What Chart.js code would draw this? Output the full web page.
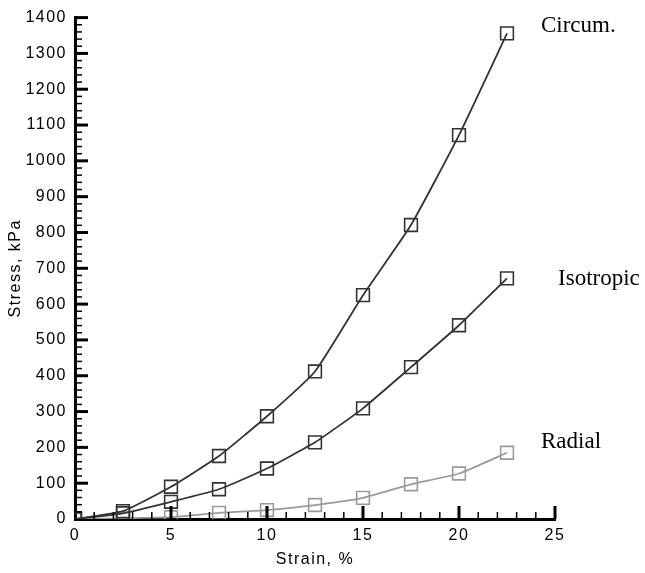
<!DOCTYPE html>
<html>
<head>
<meta charset="utf-8">
<script src="https://cdn.jsdelivr.net/npm/chart.js@4.4.0/dist/chart.umd.min.js"></script>
<style>
  html, body { margin: 0; padding: 0; background: #fff; }
  #wrap { width: 645px; height: 573px; }
</style>
</head>
<body>
<div id="wrap"><canvas id="myChart" width="645" height="573"></canvas></div>
<script>
// strain (%) at each measurement
const strain = [0, 2.5, 5, 7.5, 10, 12.5, 15, 17.5, 20, 22.5];
// stress (kPa) per loading direction
const circum = [0, 22, 90, 176, 287, 412, 625, 821, 1072, 1356];
const isotropic = [0, 16, 48, 83, 141, 214, 309, 424, 541, 672];
const radial = [0, 2, 5, 17, 25, 39, 59, 97, 127, 185];
const seriesNames = ['Circum.', 'Isotropic', 'Radial'];

const toPoints = vals => strain.map((s, i) => ({ x: s, y: vals[i] }));

const dark = '#333333';
const light = '#9a9a9a';

function makeSet(label, vals, color) {
    return {
        label: label,
        data: toPoints(vals),
        borderColor: color,
        borderWidth: 1.8,
        pointStyle: 'rect',
        pointRadius: 9,
        pointBorderWidth: 1.6,
        pointBorderColor: color,
        pointBackgroundColor: 'rgba(0,0,0,0)',
        tension: 0.15,
        fill: false
    };
}

// text labels next to each curve, given in data units
const curveLabels = [
    { text: seriesNames[0], x: 24.27, y: 1359 },
    { text: seriesNames[1], x: 25.16, y: 654 },
    { text: seriesNames[2], x: 24.27, y: 198 }
];

const insideTicks = {
    id: 'insideTicks',
    beforeDraw(chart) {
        chart.ctx.letterSpacing = '1.5px';
    },
    afterDraw(chart) {
        const ctx = chart.ctx;
        const xs = chart.scales.x;
        const ys = chart.scales.y;
        const left = chart.chartArea.left;
        const bottom = chart.chartArea.bottom;
        ctx.save();
        ctx.strokeStyle = '#000';
        for (let v = 20; v <= 1400; v += 20) {
            const major = v % 100 === 0;
            const py = ys.getPixelForValue(v);
            ctx.lineWidth = major ? 3 : 1.5;
            ctx.beginPath();
            ctx.moveTo(left, py);
            ctx.lineTo(left + (major ? 13 : 7), py);
            ctx.stroke();
        }
        for (let v = 1; v <= 25; v += 1) {
            const major = v % 5 === 0;
            const px = xs.getPixelForValue(v);
            ctx.lineWidth = major ? 3 : 1.5;
            ctx.beginPath();
            ctx.moveTo(px, bottom);
            ctx.lineTo(px, bottom - (major ? 13 : 7));
            ctx.stroke();
        }
        ctx.letterSpacing = '0px';
        ctx.fillStyle = '#000';
        ctx.font = '23px "Liberation Serif"';
        ctx.textAlign = 'left';
        ctx.textBaseline = 'alphabetic';
        curveLabels.forEach(l => {
            ctx.fillText(l.text, xs.getPixelForValue(l.x), ys.getPixelForValue(l.y));
        });
        ctx.restore();
    }
};

const tickFont = { family: '"Liberation Sans", Arial, sans-serif', size: 16 };
const plainNumber = v => String(v);

const ctx = document.getElementById('myChart').getContext('2d');
new Chart(ctx, {
    type: 'line',
    data: {
        datasets: [
            makeSet(seriesNames[0], circum, dark),
            makeSet(seriesNames[1], isotropic, dark),
            makeSet(seriesNames[2], radial, light)
        ]
    },
    options: {
        responsive: false,
        animation: false,
        layout: { padding: { left: 6, right: 90, top: 16, bottom: 4 } },
        plugins: {
            legend: { display: false },
            tooltip: { enabled: false }
        },
        scales: {
            x: {
                type: 'linear',
                min: 0,
                max: 25,
                afterFit: scale => { scale.height = 50; },
                grid: { display: false, drawTicks: false },
                border: { display: true, width: 3, color: '#000' },
                ticks: { stepSize: 5, padding: 7, color: '#000', font: tickFont, callback: plainNumber },
                title: { display: true, text: 'Strain, %', color: '#000', font: tickFont, padding: 0 }
            },
            y: {
                type: 'linear',
                min: 0,
                max: 1400,
                afterFit: scale => { scale.width = 69; },
                grid: { display: false, drawTicks: false },
                border: { display: true, width: 3, color: '#000' },
                ticks: { stepSize: 100, padding: 8, color: '#000', font: tickFont, callback: plainNumber },
                title: { display: true, text: 'Stress, kPa', color: '#000', font: tickFont, padding: 0 }
            }
        }
    },
    plugins: [insideTicks]
});
</script>
</body>
</html>
